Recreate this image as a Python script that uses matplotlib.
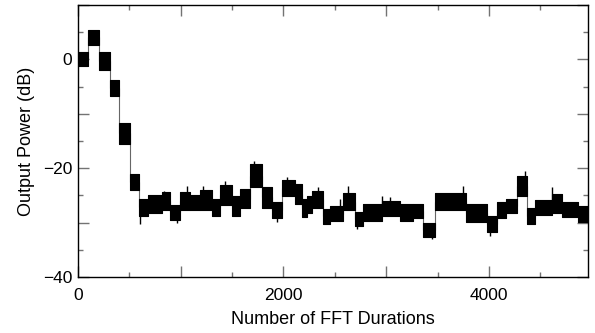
import bisect
import matplotlib.pyplot as plt
from matplotlib.ticker import MultipleLocator, FuncFormatter

plt.rcParams['font.family'] = ['Liberation Sans', 'DejaVu Sans']

# the trace is made of blocks; each block: start, upper and lower edge (dB)
block_start = [0, 100, 200, 310, 400, 505, 594, 685, 815, 896, 993, 1090,
               1188, 1301, 1382, 1495, 1577, 1674, 1788, 1885, 1982, 2112,
               2177, 2226, 2274, 2388, 2453, 2583, 2696, 2777, 2956, 3134,
               3264, 3361, 3474, 3776, 3977, 4074, 4170, 4269, 4367, 4447,
               4609, 4707, 4869]
block_end = 4964
block_hi = [1.3, 5.4, 1.3, -3.7, -11.6, -21.0, -25.6, -25.0, -24.4, -26.7,
            -24.4, -24.9, -24.0, -25.6, -23.1, -25.1, -23.9, -19.3, -23.4,
            -26.3, -22.1, -22.9, -25.7, -25.1, -24.2, -27.5, -27.0, -24.6,
            -28.1, -26.6, -26.1, -26.6, -26.6, -30.0, -24.6, -26.6, -28.7,
            -26.3, -25.6, -21.4, -27.3, -25.8, -24.8, -26.3, -27.0]
block_lo = [-1.3, 2.7, -1.9, -6.7, -15.6, -24.0, -28.8, -28.2, -27.6, -29.5,
            -27.6, -27.6, -27.7, -28.7, -26.8, -28.7, -27.3, -23.4, -27.3,
            -29.2, -25.2, -26.6, -28.9, -28.2, -27.3, -30.2, -29.7, -27.7,
            -30.6, -29.7, -28.8, -29.7, -29.2, -32.6, -27.7, -29.8, -31.7,
            -29.2, -28.2, -25.1, -30.2, -28.6, -28.2, -29.0, -29.9]

# single spikes sticking out of the band
spike_x = [604, 840, 960, 1058, 1220, 1431, 1716, 1934, 2031, 2339, 2550,
           2625, 2712, 2956, 3037, 3442, 3750, 4010, 4350, 4616]
spike_y = [-30.2, -24.1, -30.0, -23.3, -23.3, -22.4, -18.7, -29.9, -21.7,
           -23.5, -25.7, -23.3, -31.2, -25.1, -25.3, -33.1, -23.3, -32.5,
           -20.6, -23.4]


def main():
    fig = plt.figure(figsize=(5.95, 3.33), dpi=100)
    ax = fig.add_axes([78 / 595, 56 / 333, 510 / 595, 272 / 333])

    edges = block_start + [block_end]

    # thin connectors between blocks, drawn under the band
    mids = [(h + l) / 2 for h, l in zip(block_hi, block_lo)]
    ax.step(edges, mids + [mids[-1]], where='post', color='0.4',
            linewidth=0.8, zorder=1)

    for i in range(len(block_start)):
        ax.fill_between([edges[i], edges[i + 1]], [block_lo[i]] * 2,
                        [block_hi[i]] * 2, color='black', linewidth=0.8,
                        zorder=2)

    bases = [mids[bisect.bisect_right(block_start, x) - 1] for x in spike_x]
    ax.vlines(spike_x, bases, spike_y, color='black', linewidth=1, zorder=2)

    ax.set_xlim(0, block_end)
    ax.set_ylim(-40, 10)

    ax.xaxis.set_major_locator(MultipleLocator(1000))
    ax.xaxis.set_minor_locator(MultipleLocator(500))
    ax.yaxis.set_major_locator(MultipleLocator(10))
    ax.yaxis.set_minor_locator(MultipleLocator(5))
    ax.xaxis.set_major_formatter(
        FuncFormatter(lambda v, p: f"{v:.0f}" if v % 2000 == 0 else ""))
    ax.yaxis.set_major_formatter(
        FuncFormatter(lambda v, p: f"{v:.0f}".replace("-", "\u2212")
                      if v % 20 == 0 else ""))

    ax.tick_params(which='both', direction='in', top=True, right=True,
                   color='0.45', width=1)
    ax.tick_params(which='major', length=8, labelsize=12.5)
    ax.tick_params(which='minor', length=3.5)
    ax.tick_params(axis='x', pad=8)
    ax.tick_params(axis='y', pad=4)

    for s in ax.spines.values():
        s.set_linewidth(1)

    ax.set_xlabel("Number of FFT Durations", fontsize=13, labelpad=6)
    ax.set_ylabel("Output Power (dB)", fontsize=13, labelpad=6)

    fig.savefig("out.png", dpi=100)


if __name__ == "__main__":
    main()
